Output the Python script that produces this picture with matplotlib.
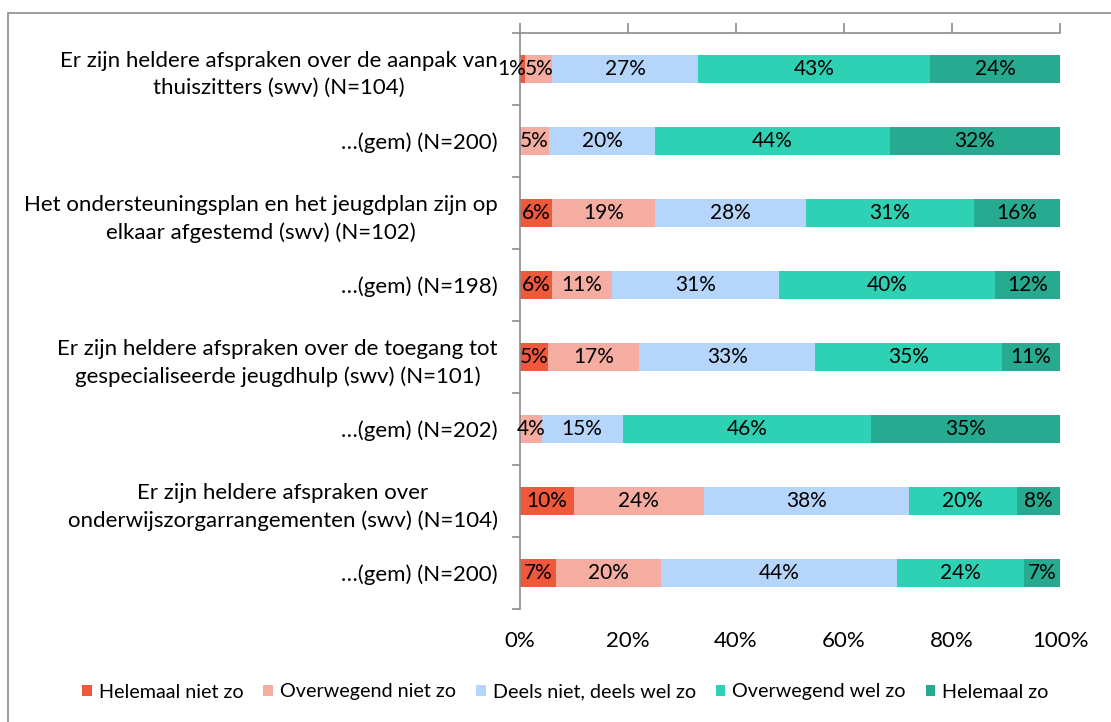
import numpy as np
import matplotlib.pyplot as plt
from matplotlib.patches import Rectangle

plt.rcParams['font.family'] = ['Lato', 'DejaVu Sans']

# Categories top to bottom
categories = [
    'Er zijn heldere afspraken over de aanpak van\nthuiszitters (swv) (N=104)',
    '…(gem) (N=200)',
    'Het ondersteuningsplan en het jeugdplan zijn op\nelkaar afgestemd (swv) (N=102)',
    '…(gem) (N=198)',
    'Er zijn heldere afspraken over de toegang tot\ngespecialiseerde jeugdhulp (swv) (N=101)',
    '…(gem) (N=202)',
    'Er zijn heldere afspraken over\nonderwijszorgarrangementen (swv) (N=104)',
    '…(gem) (N=200)',
]
series = ['Helemaal niet zo', 'Overwegend niet zo', 'Deels niet, deels wel zo',
          'Overwegend wel zo', 'Helemaal zo']

helemaal_niet = [1, 0, 6, 6, 5.2, 0, 10, 6.6]
overwegend_niet = [5, 5.4, 19, 11, 16.9, 4, 24, 19.6]
deels = [27, 19.6, 28, 31, 32.6, 15, 38, 43.6]
overwegend_wel = [43, 43.5, 31, 40, 34.6, 46, 20, 23.6]
helemaal_wel = [24, 31.5, 16, 12, 10.7, 35, 8, 6.6]

colors = ['#F0583C', '#F5ADA1', '#B5D5FA', '#2ED1B3', '#26AA90']
x_ticks = [0, 20, 40, 60, 80, 100]

fig = plt.figure(figsize=(11.11, 7.22), dpi=100)
ax = fig.add_axes([520/1111, 1-609/722, 540/1111, 576/722])

# outer chart frame (right and bottom edges fall outside the picture)
fig.patches.append(Rectangle((8/1111, -0.2), 1.2, 1.2 - 13/722, transform=fig.transFigure,
                             fill=False, edgecolor='#8c8c8c', linewidth=1.2))

y = np.arange(len(categories))
left = np.zeros(len(categories))
allvals = [helemaal_niet, overwegend_niet, deels, overwegend_wel, helemaal_wel]
for vals, name, col in zip(allvals, series, colors):
    vals = np.array(vals, dtype=float)
    ax.barh(y, vals, left=left, height=0.39, color=col, label=name)
    for yi, l, v in zip(y, left, vals):
        if v <= 0:
            continue
        if v < 3:
            # tiny segment: keep label from running into the next one
            ax.text(l + v + 0.2, yi, '%d%%' % int(v + 0.5), ha='right', va='center',
                    fontsize=15, color='black')
        else:
            ax.text(l + v/2, yi, '%d%%' % int(v + 0.5), ha='center', va='center',
                    fontsize=15, color='black')
    left += vals

ax.set_xlim(0, 100)
ax.set_ylim(len(categories) - 0.5, -0.5)

ax.set_yticks(y)
ax.set_yticklabels(categories, fontsize=16)
for t in ax.get_yticklabels():
    t.set_multialignment('center')
    t.set_linespacing(1.45)
ax.set_yticks(np.arange(-0.5, len(categories)), minor=True)
ax.tick_params(axis='y', which='major', length=0, pad=16)
ax.tick_params(axis='y', which='minor', length=6, width=1.2, color='#8c8c8c', direction='out')

ax.set_xticks(x_ticks)
ax.set_xticklabels(['%d%%' % v for v in x_ticks], fontsize=16)
ax.tick_params(axis='x', top=True, bottom=False, labeltop=False, labelbottom=True,
               length=7, width=1.2, color='#8c8c8c', pad=9, direction='out')

for s in ['right', 'bottom']:
    ax.spines[s].set_visible(False)
for s in ['top', 'left']:
    ax.spines[s].set_color('#8c8c8c')
    ax.spines[s].set_linewidth(1.2)

fig.legend(loc='center', bbox_to_anchor=(0.509, 1-692/722), ncol=5, frameon=False,
           fontsize=14.2, handlelength=0.5, handleheight=0.5, handletextpad=0.35,
           columnspacing=1.0)

fig.savefig('out.png', dpi=100)
